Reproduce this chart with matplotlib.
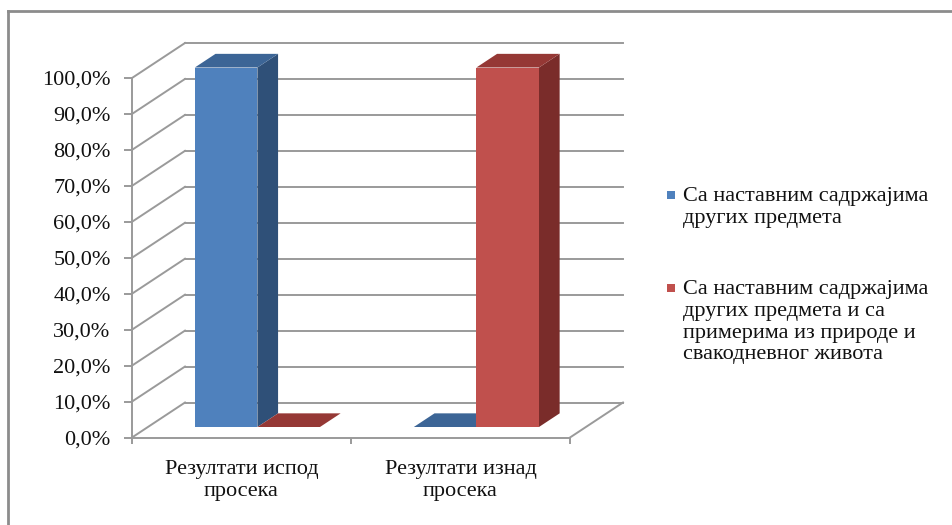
import matplotlib
matplotlib.use("Agg")
import matplotlib.pyplot as plt
import matplotlib.transforms as mtransforms
from matplotlib.patches import Polygon, Rectangle
from matplotlib.lines import Line2D

# ---- data ----
categories = ["Резултати испод\nпросека", "Резултати изнад\nпросека"]
series_names = [
    "Са наставним садржајима\nдругих предмета",
    "Са наставним садржајима\nдругих предмета и са\nпримерима из природе и\nсвакодневног живота",
]
series_values = [
    [100.0, 0.0],   # blue series
    [0.0, 100.0],   # red series
]
y_ticks = [0, 10, 20, 30, 40, 50, 60, 70, 80, 90, 100]

# face colours: front, side, top
face_colors = [
    ("#4F81BD", "#2F5078", "#3C6596"),
    ("#C0504D", "#7A2C2A", "#953835"),
]

FONT = "Liberation Serif"
FS = 16
GRID = "#9a9a9a"
TXT = "#111111"

W, H, DPI = 953, 525, 100
fig = plt.figure(figsize=(W / DPI, H / DPI), dpi=DPI)
fig.patch.set_facecolor("white")

# front plane of the 3-D box
ax = fig.add_axes([132 / W, (H - 437.5) / H, 438 / W, 359.5 / H])
ax.set_xlim(-0.5, len(categories) - 0.5)
ax.set_ylim(0, 100)
ax.set_facecolor("none")

# depth of the box in pixels (right, up)
DX, DY = 53.0, 35.0
BAR_D0, BAR_D1 = 0.30, 0.69
BAR_W = 1 / 3.5


def pt(x, v, d):
    X, Y = ax.transData.transform((x, v))
    return (X + DX * d, Y + DY * d)


ident = mtransforms.IdentityTransform()

# back wall gridlines and left wall diagonals
x_lo, x_hi = ax.get_xlim()
for v in y_ticks:
    a, b = pt(x_lo, v, 1), pt(x_hi, v, 1)
    fig.add_artist(Line2D([a[0], b[0]], [a[1], b[1]], transform=ident,
                          color=GRID, lw=1.4, zorder=1))
    c = pt(x_lo, v, 0)
    fig.add_artist(Line2D([c[0], a[0]], [c[1], a[1]], transform=ident,
                          color=GRID, lw=1.4, zorder=1))
# right floor edge
c, a = pt(x_hi, 0, 0), pt(x_hi, 0, 1)
fig.add_artist(Line2D([c[0], a[0]], [c[1], a[1]], transform=ident,
                      color=GRID, lw=1.4, zorder=1))

# 3-D bars
n_series = len(series_values)
for s, vals in enumerate(series_values):
    front_c, side_c, top_c = face_colors[s]
    for j, v in enumerate(vals):
        x0 = j - BAR_W * n_series / 2 + s * BAR_W
        x1 = x0 + BAR_W
        z = 3 + j * 2 + s
        if v > 0:
            front = [pt(x0, 0, BAR_D0), pt(x1, 0, BAR_D0), pt(x1, v, BAR_D0), pt(x0, v, BAR_D0)]
            side = [pt(x1, 0, BAR_D0), pt(x1, 0, BAR_D1), pt(x1, v, BAR_D1), pt(x1, v, BAR_D0)]
            fig.add_artist(Polygon(side, closed=True, transform=ident,
                                   facecolor=side_c, edgecolor="none", zorder=z))
            fig.add_artist(Polygon(front, closed=True, transform=ident,
                                   facecolor=front_c, edgecolor="none", zorder=z))
        top = [pt(x0, v, BAR_D0), pt(x1, v, BAR_D0), pt(x1, v, BAR_D1), pt(x0, v, BAR_D1)]
        fig.add_artist(Polygon(top, closed=True, transform=ident,
                               facecolor=top_c, edgecolor="none", zorder=z))

# axes styling
for side in ("top", "right"):
    ax.spines[side].set_visible(False)
for side in ("left", "bottom"):
    ax.spines[side].set_color(GRID)
    ax.spines[side].set_linewidth(1.4)

ax.set_yticks(y_ticks)
ax.set_yticklabels([f"{v:.1f}%".replace(".", ",") for v in y_ticks],
                   fontfamily=FONT, fontsize=FS, color=TXT)
ax.tick_params(axis="y", length=6, width=1.4, color=GRID, pad=9.4)

ax.set_xticks([k - 0.5 for k in range(len(categories) + 1)])
ax.set_xticklabels([])
ax.set_xticks(range(len(categories)), minor=True)
ax.set_xticklabels(categories, minor=True, fontfamily=FONT, fontsize=FS,
                   color=TXT, linespacing=1.22)
ax.tick_params(axis="x", which="major", length=4.5, width=1.4, color=GRID)
ax.tick_params(axis="x", which="minor", length=0, pad=16)

# legend
leg_y = [195, 288]
for s, name in enumerate(series_names):
    yc = H - leg_y[s]
    fig.add_artist(Rectangle((667 / W, (yc - 4) / H), 8 / W, 8 / H,
                             transform=fig.transFigure,
                             facecolor=face_colors[s][0], edgecolor="none"))
    fig.text(683 / W, (yc + 8) / H, name, fontfamily=FONT, fontsize=FS,
             color=TXT, va="top", ha="left", linespacing=1.2)

# chart frame
fig.add_artist(Line2D([8.5 / W, 1], [1 - 11 / H, 1 - 11 / H], transform=fig.transFigure,
                      color="#8c8c8c", lw=2))
fig.add_artist(Line2D([8.5 / W, 8.5 / W], [0, 1 - 11 / H], transform=fig.transFigure,
                      color="#8c8c8c", lw=2))

fig.savefig("out.png", dpi=DPI, facecolor="white")
